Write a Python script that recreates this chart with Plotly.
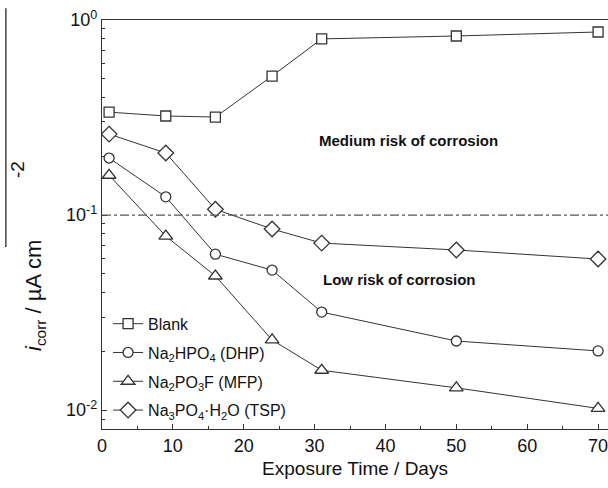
import math
import plotly.graph_objects as go

days = [1, 9, 16, 24, 31, 50, 70]
blank = [0.337, 0.322, 0.318, 0.516, 0.80, 0.828, 0.868]
dhp = [0.196, 0.124, 0.063, 0.0522, 0.0318, 0.0226, 0.0201]
mfp = [0.160, 0.078, 0.0487, 0.0229, 0.0160, 0.0130, 0.0102]
tsp = [0.260, 0.208, 0.107, 0.0848, 0.0718, 0.0662, 0.0595]

names = ["Blank", "Na<sub>2</sub>HPO<sub>4</sub> (DHP)", "Na<sub>2</sub>PO<sub>3</sub>F (MFP)",
         "Na<sub>3</sub>PO<sub>4</sub>·H<sub>2</sub>O (TSP)"]
series = [blank, dhp, mfp, tsp]
symbols = ["square", "circle", "triangle-up", "diamond"]
sizes = [10, 10, 12, 12]

xtickvals = [0, 10, 20, 30, 40, 50, 60, 70]
ytickvals = [0.01, 0.1, 1]
yticktext = ["10<sup>-2</sup>", "10<sup>-1</sup>", "10<sup>0</sup>"]
threshold = 0.1

FONT = "Liberation Sans, Arial, sans-serif"
ink = "#333333"

fig = go.Figure()
for i, (nm, ys, sym, sz) in enumerate(zip(names, series, symbols, sizes)):
    fig.add_trace(go.Scatter(
        x=days, y=ys, name=nm, mode="lines+markers", legendgroup=str(i),
        line=dict(color=ink, width=1),
        marker=dict(symbol=sym, size=sz, color="white", line=dict(color=ink, width=1.3)),
    ))

fig.add_shape(type="line", xref="paper", yref="y", x0=0, x1=1, y0=threshold, y1=threshold,
              line=dict(color="#555555", width=1.2, dash="dashdot"))
fig.add_shape(type="line", xref="paper", yref="paper", x0=-0.19, x1=-0.19, y0=1.029, y1=0.445,
              line=dict(color="#444444", width=1.5))

fig.add_annotation(x=43.3, y=math.log10(0.24), xref="x", yref="y", text="<b>Medium risk of corrosion</b>",
                   showarrow=False, font=dict(family=FONT, size=15, color="#111111"))
fig.add_annotation(x=42.0, y=math.log10(0.0465), xref="x", yref="y", text="<b>Low risk of corrosion</b>",
                   showarrow=False, font=dict(family=FONT, size=15, color="#111111"))
fig.add_annotation(x=(35 - 102) / 506, y=(429 - 296) / 409, xref="paper", yref="paper",
                   text="<i>i</i><sub>corr</sub> / µA cm", textangle=-90,
                   showarrow=False, font=dict(family=FONT, size=22, color="#111111"),
                   xanchor="center", yanchor="middle")
fig.add_annotation(x=(17 - 102) / 506, y=(429 - 170) / 409, xref="paper", yref="paper",
                   text="-2", textangle=-90,
                   showarrow=False, font=dict(family=FONT, size=19, color="#111111"),
                   xanchor="center", yanchor="middle")

fig.update_layout(
    width=608, height=488,
    margin=dict(l=102, r=0, t=20, b=59),
    paper_bgcolor="white", plot_bgcolor="white",
    font=dict(family=FONT, color="#111111"),
    showlegend=True,
    legend=dict(x=0.012, y=0.003, xanchor="left", yanchor="bottom", bgcolor="rgba(0,0,0,0)",
                font=dict(family=FONT, size=16, color="#111111"), tracegroupgap=5,
                itemwidth=30),
    xaxis=dict(range=[0, 71.4], tickvals=xtickvals, ticks="inside", ticklen=5,
               tickcolor=ink, showline=True, linecolor=ink, linewidth=1.2, mirror=True,
               showgrid=False, zeroline=False, tickfont=dict(size=18), automargin=False,
               ticklabeloverflow="allow",
               minor=dict(tickvals=[5, 15, 25, 35, 45, 55, 65], ticks="inside", ticklen=3, tickcolor=ink),
               title=dict(text="Exposure Time / Days", font=dict(size=19), standoff=6)),
    yaxis=dict(type="log", range=[-2.097, 0], tickvals=ytickvals, ticktext=yticktext,
               ticks="inside", ticklen=5, tickcolor=ink, showline=True, linecolor=ink, linewidth=1.2,
               showgrid=False, zeroline=False, tickfont=dict(size=18), automargin=False,
               minor=dict(ticks="inside", ticklen=3, tickcolor=ink, dtick="D1", showgrid=False)),
)

fig.write_html("out.html", config={"displayModeBar": False},
               post_script="document.body.style.margin='0';document.body.style.overflow='hidden';")
